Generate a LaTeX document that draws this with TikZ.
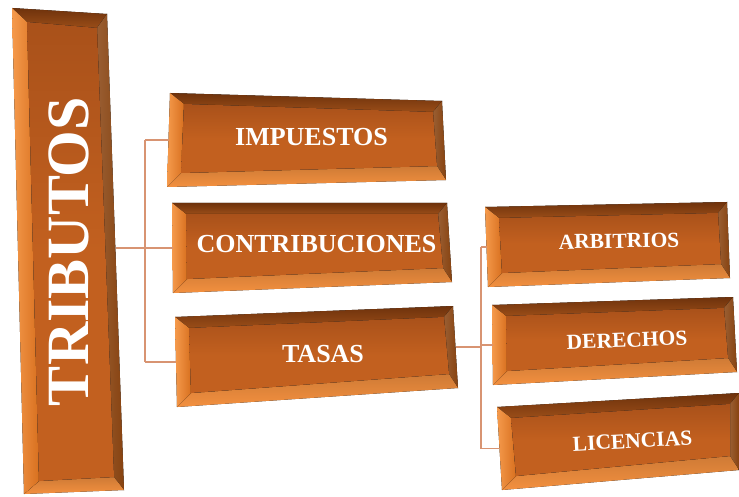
\documentclass[tikz,border=0pt]{standalone}
\usepackage{fontspec}
\setmainfont{Liberation Serif}
\usetikzlibrary{calc}
\definecolor{facecol}{HTML}{C2601F}
\definecolor{facetop}{HTML}{A9511A}
\definecolor{topbevA}{HTML}{6E320C}
\definecolor{topbevB}{HTML}{9A4D18}
\definecolor{rightbevcol}{HTML}{87420F}
\definecolor{botbevcol}{HTML}{F3903F}
\definecolor{leftbevA}{HTML}{F59A4C}
\definecolor{leftbevB}{HTML}{D8701F}
\definecolor{conncol}{HTML}{D89472}
\tikzset{
  topbev/.style={top color=topbevA, bottom color=topbevB},
  rightbev/.style={left color=rightbevcol!85!white, right color=rightbevcol},
  botbev/.style={top color=botbevcol!85!black, bottom color=botbevcol},
  leftbev/.style={left color=leftbevA, right color=leftbevB},
  facefill/.style={top color=facetop, bottom color=facecol, middle color=facecol},
  lbl/.style={text=white, font=\bfseries\fontsize{26}{28}\selectfont, inner sep=0pt},
  sublbl/.style={lbl, font=\bfseries\fontsize{21.5}{24}\selectfont},
  conn/.style={draw=conncol, line width=1.1pt},
}
% #1 name, #2 TL, #3 TR, #4 BR, #5 BL, #6 left, #7 top, #8 right, #9 bottom bevel
\newcommand\bevbox[9]{%
  \coordinate (#1-A) at #2;
  \coordinate (#1-B) at #3;
  \coordinate (#1-C) at #4;
  \coordinate (#1-D) at #5;
  \coordinate (#1-a) at ($(#1-A)+(#6,#7)$);
  \coordinate (#1-b) at ($(#1-B)+(-#8,#7)$);
  \coordinate (#1-c) at ($(#1-C)+(-#8,-#9)$);
  \coordinate (#1-d) at ($(#1-D)+(#6,-#9)$);
  \coordinate (#1-w) at ($(#1-A)!0.5!(#1-D)$);
  \coordinate (#1-e) at ($(#1-B)!0.5!(#1-C)$);
  \coordinate (#1-m) at ($(#1-a)!0.5!(#1-c)$);
  \fill[topbev] (#1-A)--(#1-B)--(#1-b)--(#1-a)--cycle;
  \fill[rightbev] (#1-B)--(#1-C)--(#1-c)--(#1-b)--cycle;
  \fill[botbev] (#1-C)--(#1-D)--(#1-d)--(#1-c)--cycle;
  \fill[leftbev] (#1-D)--(#1-A)--(#1-a)--(#1-d)--cycle;
  \fill[facefill] (#1-a)--(#1-b)--(#1-c)--(#1-d)--cycle;
}
\begin{document}
\begin{tikzpicture}[x=1pt,y=-1pt]
\useasboundingbox[fill=white] (0,0) rectangle (739,497);
\coordinate (sp1) at (145,248);
\coordinate (sp2) at (481,347);
% boxes
\bevbox{trib}{(12,8)}{(107,14)}{(124,490)}{(24,494)}{15}{14}{10}{13}
\bevbox{imp}{(170,93)}{(442,101)}{(446,180)}{(167,187)}{14}{11}{9}{14}
\bevbox{con}{(172,203)}{(447,203)}{(452,282)}{(173,293)}{14}{11}{9}{14}
\bevbox{tas}{(175,317)}{(453,306)}{(458,388)}{(177,407)}{14}{11}{9}{14}
\bevbox{arb}{(485,207)}{(727,202)}{(730,278)}{(488,287)}{14}{11}{9}{14}
\bevbox{der}{(492,305)}{(733,297)}{(737,372)}{(493,385)}{14}{11}{9}{14}
\bevbox{lic}{(497,407)}{(739,393)}{(739,470)}{(502,490)}{14}{11}{9}{14}
% labels
\node[lbl, rotate=90, font=\bfseries\fontsize{60}{60}\selectfont] (tribt) at ($(trib-m)+(-2,2)$) {TRIBUTOS};
\node[lbl] (impt) at ($(imp-m)+(1,2)$) {IMPUESTOS};
\node[lbl] (cont) at ($(con-m)+(2,3)$) {CONTRIBUCIONES};
\node[lbl] (tast) at ($(tas-m)+(4,3)$) {TASAS};
\node[sublbl, rotate=1] (arbt) at ($(arb-m)+(9,0)$) {ARBITRIOS};
\node[sublbl, rotate=2] (dert) at ($(der-m)+(10,3)$) {DERECHOS};
\node[sublbl, rotate=3] (lict) at ($(lic-m)+(12,4)$) {LICENCIAS};
% connectors
\draw[conn] (trib-e |- sp1) -- (sp1);
\draw[conn] (imp-w -| sp1) -- (tas-w -| sp1);
\draw[conn] (imp-w -| sp1) -- (imp-w);
\draw[conn] (con-w -| sp1) -- (con-w);
\draw[conn] (tas-w -| sp1) -- (tas-w);
\draw[conn] (tas-e) -- (sp2);
\draw[conn] (arb-w -| sp2) -- (lic-w -| sp2);
\draw[conn] (arb-w -| sp2) -- (arb-w);
\draw[conn] (der-w -| sp2) -- (der-w);
\draw[conn] (lic-w -| sp2) -- (lic-w);
\end{tikzpicture}
\end{document}
